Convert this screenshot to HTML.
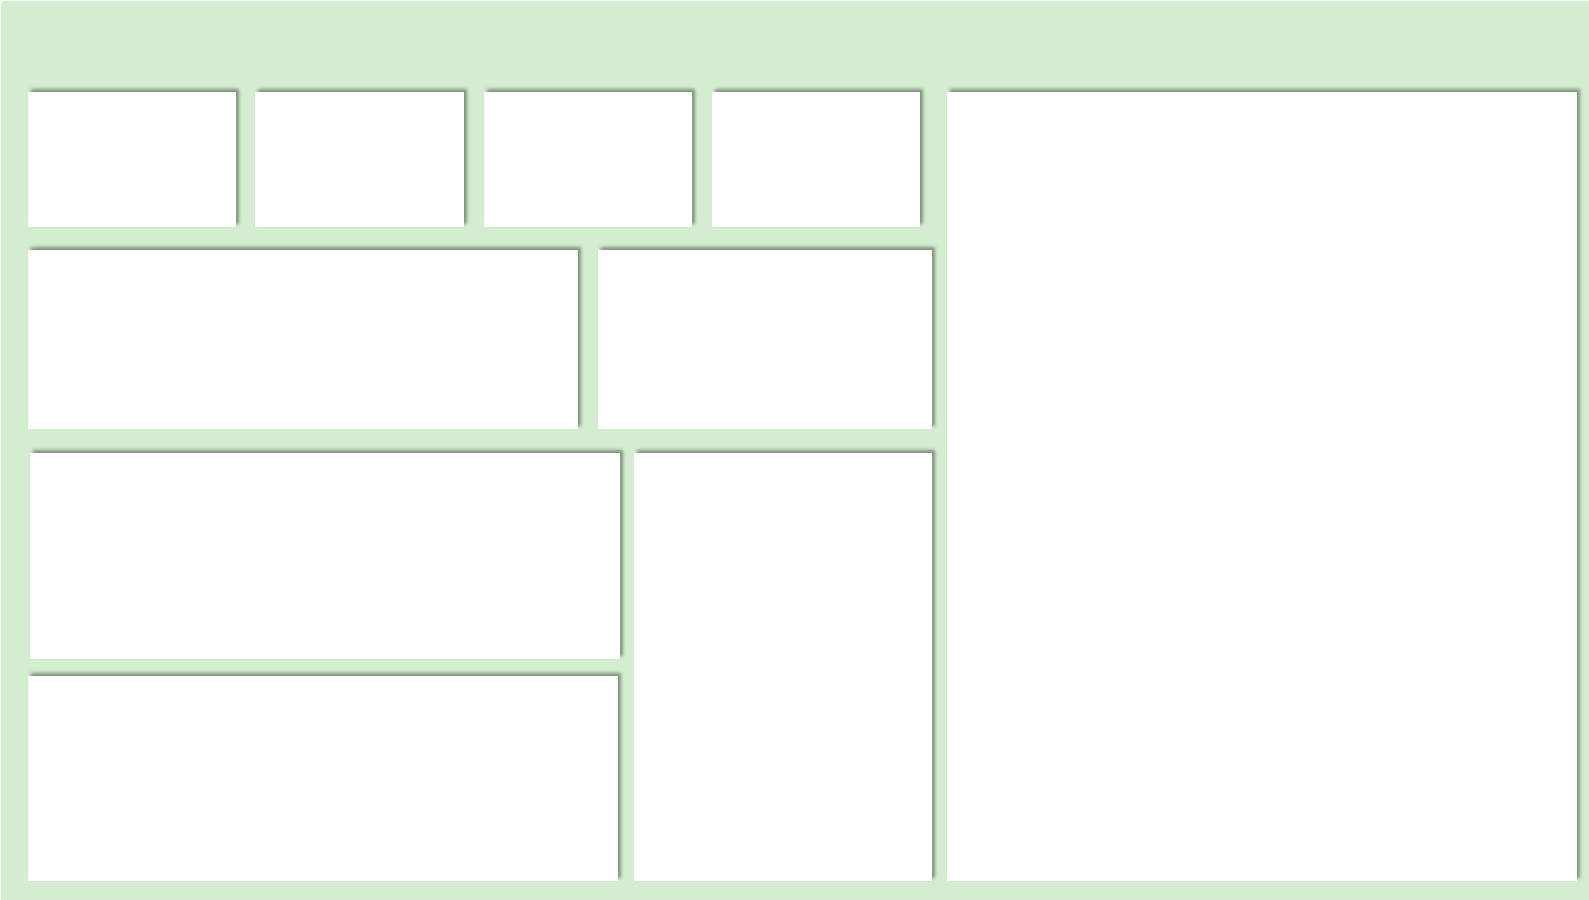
<!DOCTYPE html>
<html><head><meta charset="utf-8"><style>
html,body{margin:0;padding:0;width:1589px;height:900px;overflow:hidden;background:#fff;font-family:"Liberation Sans",sans-serif}
#page{position:absolute;left:1px;top:1px;width:1588px;height:899px;background:#d4ecd0;border-radius:4px 0 0 0}
.p{position:absolute;background:#fff;box-shadow:3px -3px 3px rgba(60,80,60,0.55)}
</style></head><body>
<div id="page">
<div class="p" style="left:27px;top:91px;width:208px;height:135px"></div>
<div class="p" style="left:254px;top:91px;width:209px;height:135px"></div>
<div class="p" style="left:483px;top:91px;width:208px;height:135px"></div>
<div class="p" style="left:711px;top:91px;width:208px;height:135px"></div>
<div class="p" style="left:946px;top:91px;width:630px;height:789px"></div>
<div class="p" style="left:27px;top:249px;width:550px;height:179px"></div>
<div class="p" style="left:597px;top:249px;width:334px;height:179px"></div>
<div class="p" style="left:29px;top:452px;width:590px;height:206px"></div>
<div class="p" style="left:27px;top:675px;width:590px;height:205px"></div>
<div class="p" style="left:633px;top:452px;width:298px;height:428px"></div>
</div>
</body></html>
